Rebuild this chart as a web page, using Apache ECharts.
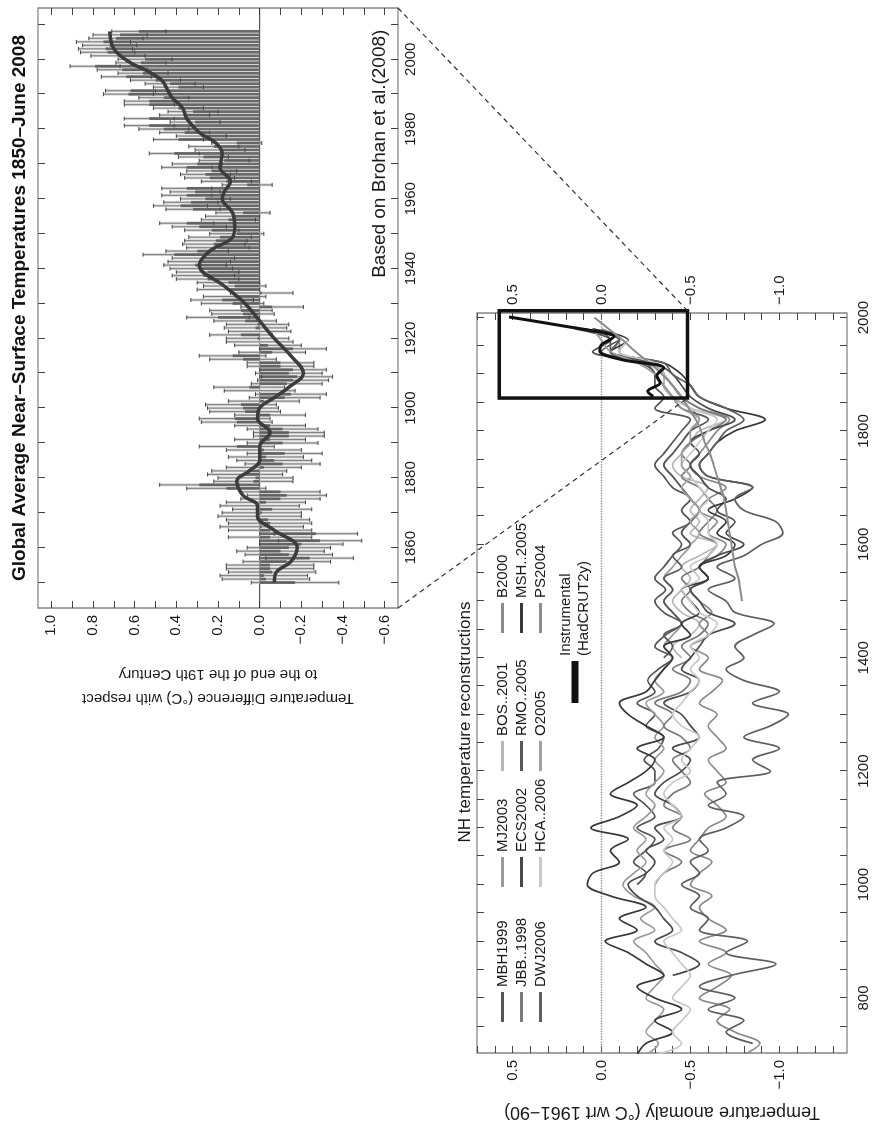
<!DOCTYPE html>
<html><head><meta charset="utf-8">
<script src="https://cdn.jsdelivr.net/npm/echarts@6/dist/echarts.min.js"></script>
<style>
html,body{margin:0;padding:0;background:#fff;width:872px;height:1136px;overflow:hidden}
#wrap{position:absolute;left:0;top:0;width:1136px;height:872px;transform-origin:0 0;transform:translate(0px,1136px) rotate(-90deg)}
#chart{width:1136px;height:872px}
</style></head><body>
<div id="wrap"><div id="chart"></div></div>
<script>
// ---------- Upper panel: global annual anomalies (relative to end of 19th century) ----------
const globalStart = 1850;
const globalAnom = [
-0.17,-0.03,-0.02,-0.06,-0.05,-0.05,-0.13,-0.24,-0.14,-0.10,
-0.14,-0.20,-0.29,-0.05,-0.27,-0.05,-0.01,-0.05,-0.04,0.00,
-0.01,-0.06,0.00,-0.03,-0.10,-0.13,-0.10,0.16,0.29,0.03,
0.02,0.07,0.05,-0.02,-0.11,-0.07,-0.03,-0.12,-0.02,0.11,
-0.11,-0.05,-0.14,-0.14,-0.11,-0.05,0.11,0.12,-0.05,0.07,
0.08,0.09,-0.02,-0.12,-0.15,0.00,0.05,-0.13,-0.16,-0.18,
-0.14,-0.16,-0.10,-0.10,0.08,0.13,-0.06,-0.16,-0.04,0.00,
0.01,0.09,0.00,0.02,0.01,0.07,0.20,0.08,0.09,-0.06,
0.13,0.18,0.12,-0.01,0.15,0.12,0.15,0.25,0.27,0.25,
0.28,0.31,0.29,0.27,0.41,0.30,0.20,0.22,0.21,0.19,
0.11,0.23,0.29,0.35,0.15,0.13,0.08,0.32,0.38,0.33,
0.26,0.35,0.31,0.35,0.06,0.16,0.24,0.26,0.23,0.35,
0.30,0.17,0.27,0.41,0.19,0.22,0.11,0.39,0.28,0.36,
0.46,0.53,0.31,0.53,0.36,0.32,0.39,0.53,0.53,0.46,
0.63,0.62,0.39,0.43,0.50,0.64,0.56,0.66,0.79,0.57,
0.55,0.68,0.73,0.74,0.72,0.75,0.69,0.67,0.58];
const errDecade = [0.21,0.20,0.19,0.18,0.17,0.17,0.16,0.15,0.15,0.15,0.13,0.12,0.12,0.12,0.12,0.13];
const smoothYears = [1850,1853,1856,1860,1865,1869,1872,1875,1879,1882,1885,1889,1893,1897,1900,1903,1906,1910,1915,1920,1925,1930,1935,1941,1945,1949,1952,1956,1960,1962,1965,1969,1973,1976,1979,1983,1986,1989,1991,1994,1997,1999,2003,2008];
const smoothVals = [-0.07,-0.08,-0.15,-0.18,-0.07,0.01,0.01,0.08,0.11,0.05,0.0,0.0,-0.05,0.01,0.0,-0.07,-0.14,-0.21,-0.15,-0.07,0.0,0.07,0.17,0.29,0.24,0.13,0.12,0.13,0.18,0.17,0.14,0.19,0.18,0.21,0.29,0.35,0.37,0.42,0.44,0.47,0.55,0.62,0.70,0.72];
const upperXTicks = [1850,1860,1870,1880,1890,1900,1910,1920,1930,1940,1950,1960,1970,1980,1990,2000,2010];
const upperXLabels = [1860,1880,1900,1920,1940,1960,1980,2000];
const upperYTicks = [-0.6,-0.5,-0.4,-0.3,-0.2,-0.1,0,0.1,0.2,0.3,0.4,0.5,0.6,0.7,0.8,0.9,1.0];
const upperYLabels = [-0.6,-0.4,-0.2,0,0.2,0.4,0.6,0.8,1.0];

// ---------- Lower panel: NH reconstructions (20-year steps from each start year) ----------
const reconNames = ['MBH1999','MJ2003','BOS..2001','B2000','JBB..1998','ECS2002','RMO..2005','MSH..2005','DWJ2006','HCA..2006','O2005','PS2004'];
const reconStart = [1000,700,1400,700,1000,840,1400,700,720,700,1600,1500];
const reconStep = 20;
const MBH1999 = [-0.20,-0.25,-0.18,-0.25,-0.30,-0.20,-0.30,-0.25,-0.18,-0.30,-0.30,-0.24,-0.32,-0.35,-0.25,-0.30,-0.20,-0.30,-0.26,-0.32,-0.40,-0.30,-0.36,-0.45,-0.35,-0.30,-0.36,-0.30,-0.35,-0.40,-0.45,-0.40,-0.50,-0.45,-0.50,-0.40,-0.35,-0.30,-0.35,-0.40,-0.45,-0.50,-0.30,-0.35,-0.30,-0.30,-0.22,-0.05,-0.05,0.05];
const MJ2003 = [-0.25,-0.32,-0.25,-0.30,-0.35,-0.25,-0.30,-0.35,-0.30,-0.25,-0.18,-0.30,-0.22,-0.30,-0.18,-0.12,-0.18,-0.25,-0.20,-0.25,-0.18,-0.25,-0.30,-0.25,-0.30,-0.35,-0.30,-0.35,-0.30,-0.35,-0.30,-0.25,-0.35,-0.30,-0.35,-0.40,-0.35,-0.40,-0.45,-0.40,-0.35,-0.40,-0.35,-0.40,-0.45,-0.50,-0.45,-0.50,-0.55,-0.50,-0.45,-0.40,-0.35,-0.40,-0.45,-0.50,-0.55,-0.50,-0.40,-0.35,-0.35,-0.25,-0.05,-0.10,0.05];
const BOS2001 = [-0.45,-0.40,-0.50,-0.55,-0.45,-0.40,-0.45,-0.50,-0.45,-0.55,-0.65,-0.50,-0.55,-0.50,-0.55,-0.60,-0.45,-0.40,-0.45,-0.50,-0.55,-0.70,-0.50,-0.40,-0.35,-0.35,-0.25,-0.10,-0.15];
const B2000 = [-0.80,-0.89,-0.75,-0.65,-0.72,-0.55,-0.65,-0.73,-0.60,-0.70,-0.55,-0.70,-0.60,-0.55,-0.62,-0.50,-0.55,-0.62,-0.50,-0.55,-0.60,-0.70,-0.65,-0.58,-0.70,-0.65,-0.60,-0.70,-0.65,-0.60,-0.65,-0.55,-0.62,-0.68,-0.55,-0.60,-0.50,-0.60,-0.55,-0.62,-0.55,-0.50,-0.60,-0.55,-0.65,-0.70,-0.60,-0.65,-0.55,-0.60,-0.70,-0.55,-0.50,-0.55,-0.60,-0.65,-0.72,-0.55,-0.45,-0.40,-0.35,-0.30,-0.10,-0.10,0.00];
const JBB1998 = [-0.30,-0.35,-0.45,-0.35,-0.50,-0.40,-0.45,-0.35,-0.40,-0.50,-0.45,-0.40,-0.50,-0.45,-0.35,-0.40,-0.30,-0.45,-0.50,-0.40,-0.50,-0.45,-0.55,-0.60,-0.50,-0.45,-0.50,-0.45,-0.55,-0.60,-0.65,-0.55,-0.60,-0.65,-0.60,-0.55,-0.45,-0.50,-0.45,-0.50,-0.60,-0.70,-0.55,-0.45,-0.40,-0.35,-0.30,-0.05,-0.10,0.10];
const ECS2002 = [-0.40,-0.55,-0.45,-0.30,-0.40,-0.35,-0.30,-0.20,-0.15,-0.25,-0.30,-0.25,-0.35,-0.30,-0.45,-0.40,-0.30,-0.35,-0.45,-0.50,-0.40,-0.55,-0.50,-0.45,-0.35,-0.50,-0.55,-0.45,-0.50,-0.55,-0.60,-0.75,-0.60,-0.55,-0.50,-0.60,-0.55,-0.65,-0.80,-0.70,-0.75,-0.65,-0.70,-0.60,-0.55,-0.50,-0.55,-0.50,-0.60,-0.75,-0.60,-0.50,-0.45,-0.40,-0.30,0.05,-0.05,0.15];
const RMO2005 = [-0.35,-0.40,-0.35,-0.45,-0.40,-0.35,-0.40,-0.35,-0.45,-0.40,-0.50,-0.45,-0.50,-0.55,-0.50,-0.45,-0.40,-0.35,-0.40,-0.45,-0.50,-0.60,-0.45,-0.40,-0.35,-0.30,-0.25,0.00,-0.10];
const MSH2005 = [-0.20,-0.25,-0.40,-0.30,-0.45,-0.30,-0.20,-0.35,-0.25,-0.15,-0.02,-0.20,-0.10,-0.25,-0.05,0.08,0.05,-0.10,-0.05,-0.15,0.06,-0.10,-0.20,-0.05,-0.15,-0.25,-0.30,-0.20,-0.35,-0.25,-0.15,-0.10,-0.25,-0.30,-0.35,-0.40,-0.35,-0.50,-0.45,-0.55,-0.50,-0.45,-0.60,-0.55,-0.70,-0.75,-0.65,-0.70,-0.60,-0.75,-0.85,-0.60,-0.55,-0.60,-0.65,-0.75,-0.92,-0.70,-0.55,-0.50,-0.45,-0.35,-0.05,-0.15,0.05];
const DWJ2006 = [-0.85,-0.70,-0.80,-0.60,-0.75,-0.55,-0.73,-0.98,-0.70,-0.82,-0.55,-0.60,-0.50,-0.55,-0.45,-0.55,-0.50,-0.60,-0.55,-0.70,-0.80,-0.60,-0.70,-0.65,-0.95,-0.85,-1.00,-0.80,-0.95,-1.05,-0.85,-1.00,-0.80,-0.70,-0.80,-0.75,-0.85,-0.97,-0.75,-0.70,-0.60,-0.75,-0.65,-0.80,-0.90,-1.02,-0.98,-0.80,-0.75,-0.85,-0.60,-0.55,-0.60,-0.65,-0.70,-0.80,-0.70,-0.55,-0.50,-0.40,-0.35,-0.05,-0.10,0.10];
const HCA2006 = [-0.30,-0.45,-0.40,-0.45,-0.50,-0.40,-0.45,-0.50,-0.45,-0.40,-0.35,-0.45,-0.40,-0.35,-0.30,-0.30,-0.35,-0.40,-0.35,-0.40,-0.35,-0.45,-0.40,-0.35,-0.40,-0.50,-0.45,-0.50,-0.55,-0.45,-0.40,-0.45,-0.50,-0.55,-0.50,-0.55,-0.50,-0.60,-0.65,-0.55,-0.50,-0.45,-0.55,-0.50,-0.60,-0.65,-0.60,-0.60,-0.55,-0.60,-0.55,-0.50,-0.45,-0.50,-0.55,-0.60,-0.65,-0.50,-0.45,-0.40,-0.35,-0.30,-0.10,-0.15];
const O2005 = [-0.50,-0.55,-0.50,-0.55,-0.50,-0.45,-0.50,-0.45,-0.45,-0.50,-0.50,-0.55,-0.45,-0.40,-0.35,-0.30,-0.20,-0.05,0.00,0.05];
const PS2004 = [-0.79,-0.78,-0.77,-0.75,-0.74,-0.73,-0.72,-0.71,-0.70,-0.69,-0.67,-0.65,-0.63,-0.61,-0.58,-0.56,-0.53,-0.49,-0.45,-0.40,-0.34,-0.27,-0.19,-0.12,-0.04,0.04];
const reconValues = [MBH1999,MJ2003,BOS2001,B2000,JBB1998,ECS2002,RMO2005,MSH2005,DWJ2006,HCA2006,O2005,PS2004];
const reconColors = ['#555555','#9a9a9a','#b8b8b8','#8a8a8a','#7a7a7a','#4a4a4a','#585858','#383838','#5e5e5e','#c8c8c8','#a0a0a0','#8c8c8c'];
const instYears = [1861,1870,1885,1897,1911,1926,1941,1952,1967,1972,1986,2001];
const instVals  = [-0.29,-0.26,-0.33,-0.31,-0.35,-0.11,0.01,0.0,-0.07,-0.03,0.23,0.52];
const boxCorners = [1858,-0.484,2012,0.575];
const lowerXTicks = [750,800,850,900,950,1000,1050,1100,1150,1200,1250,1300,1350,1400,1450,1500,1550,1600,1650,1700,1750,1800,1850,1900,1950,2000];
const lowerXLabels = [800,1000,1200,1400,1600,1800,2000];
const lowerYTicks = [-1.3,-1.2,-1.1,-1.0,-0.9,-0.8,-0.7,-0.6,-0.5,-0.4,-0.3,-0.2,-0.1,0,0.1,0.2,0.3,0.4,0.5,0.6,0.7];
const lowerYLabels = [-1.0,-0.5,0,0.5];

// ---------- layout ----------
const U = {xMin:1842.7, xMax:2014.7, yMin:-0.664, yMax:1.064};
const L = {xMin:703, xMax:2008, yMin:-1.38, yMax:0.70};
const FONT = "'Liberation Sans', Arial, Helvetica, sans-serif";
const fmt = v => { const r = Math.round(v*10)/10; return (r < 0 ? '\u2212' : '') + Math.abs(r).toFixed(1); };
const fmtYear = v => String(Math.round(v));

function ax(extra, ticks, labels, labelExtra){
  return Object.assign({
    type:'value', axisLine:{show:false, onZero:false}, splitLine:{show:false},
    axisTick:{show:true, inside:true, length:7, customValues:ticks, lineStyle:{color:'#444', width:1}},
    axisLabel: labels ? Object.assign({show:true, customValues:labels, fontSize:15, color:'#1a1a1a', fontFamily:FONT}, labelExtra||{}) : {show:false}
  }, extra);
}

const chart = echarts.init(document.getElementById('chart'), null, {renderer:'canvas'});

const upperData = globalAnom.map((v,i)=>[globalStart+i, v, errDecade[Math.floor(i/10)]]);

const series = [];
series.push({
  type:'line', name:'zero', xAxisIndex:0, yAxisIndex:0, z:1, showSymbol:false, silent:true,
  data:[[U.xMin,0],[U.xMax,0]], lineStyle:{color:'#333', width:1}, color:'#333'
});
series.push({
  type:'custom', name:'annual', xAxisIndex:0, yAxisIndex:0, z:2, data:upperData,
  renderItem:(p, api)=>{
    const yr = api.value(0), v = api.value(1), e = api.value(2);
    const a = api.coord([yr-0.4, v-e]), b = api.coord([yr+0.4, v+e]);
    const c0 = api.coord([yr-0.4, 0]), c1 = api.coord([yr+0.4, v]);
    const lo = api.coord([yr, v-e]), hi = api.coord([yr, v+e]);
    return {type:'group', children:[
      {type:'rect', shape:{x:Math.min(a[0],b[0]), y:Math.min(a[1],b[1]), width:Math.abs(b[0]-a[0]), height:Math.abs(b[1]-a[1])}, style:{fill:'#d2d2d2'}},
      {type:'rect', shape:{x:Math.min(c0[0],c1[0]), y:Math.min(c0[1],c1[1]), width:Math.abs(c1[0]-c0[0]), height:Math.abs(c1[1]-c0[1])}, style:{fill:'#6a6a6a'}},
      {type:'line', shape:{x1:lo[0], y1:lo[1], x2:hi[0], y2:hi[1]}, style:{stroke:'#5a5a5a', lineWidth:0.7}},
      {type:'line', shape:{x1:lo[0]-2, y1:lo[1], x2:lo[0]+2, y2:lo[1]}, style:{stroke:'#444', lineWidth:1}},
      {type:'line', shape:{x1:hi[0]-2, y1:hi[1], x2:hi[0]+2, y2:hi[1]}, style:{stroke:'#444', lineWidth:1}}
    ]};
  }
});
series.push({
  type:'line', name:'smooth', xAxisIndex:0, yAxisIndex:0, z:5, smooth:0.4, showSymbol:false,
  data: smoothYears.map((y,i)=>[y, smoothVals[i]]),
  lineStyle:{color:'#3c3c3c', width:3.5}, color:'#3c3c3c'
});
const firstRecon = series.length;
series.push({
  type:'line', name:'zeroLow', xAxisIndex:2, yAxisIndex:2, z:1, showSymbol:false, silent:true,
  data:[[L.xMin,0],[L.xMax,0]], lineStyle:{color:'#8a8a8a', width:1.3, type:'dotted'}, color:'#8a8a8a'
});
reconNames.forEach((n,k)=>{
  series.push({
    type:'line', name:n, xAxisIndex:2, yAxisIndex:2, smooth:0.35, showSymbol:false, z:3,
    data: reconValues[k].map((v,j)=>[reconStart[k]+reconStep*j, v]),
    color:reconColors[k], lineStyle:{color:reconColors[k], width: n==='PS2004' ? 2 : 1.7}
  });
});
series.push({
  type:'line', name:'Instrumental', xAxisIndex:2, yAxisIndex:2, smooth:0.35, showSymbol:false, z:6,
  data: instYears.map((y,i)=>[y, instVals[i]]),
  color:'#111', lineStyle:{color:'#111', width:3}
});
series.push({
  type:'custom', name:'box', xAxisIndex:2, yAxisIndex:2, z:8, clip:false, data:[boxCorners],
  renderItem:(p, api)=>{
    const a = api.coord([api.value(0), api.value(1)]), b = api.coord([api.value(2), api.value(3)]);
    return {type:'rect', shape:{x:Math.min(a[0],b[0]), y:Math.min(a[1],b[1]), width:Math.abs(b[0]-a[0]), height:Math.abs(b[1]-a[1])}, style:{fill:null, stroke:'#111', lineWidth:3.5}};
  }
});

const legTxt = {fontSize:15, color:'#1a1a1a', fontFamily:FONT};
function leg(names, left, top, extra){
  return Object.assign({orient:'vertical', left:left, top:top, data:names, icon:'rect', itemWidth:30, itemHeight:3, itemGap:4, padding:0, selectedMode:false, textStyle:Object.assign({}, legTxt)}, extra||{});
}

const option = {
  animation:false,
  backgroundColor:'#fff',
  grid:[
    {left:528, top:38, width:600, height:360, show:true, borderColor:'#666', borderWidth:1.2, backgroundColor:'transparent'},
    {left:83, top:477, width:740, height:370, show:true, borderColor:'#666', borderWidth:1.2, backgroundColor:'transparent'}
  ],
  xAxis:[
    ax({gridIndex:0, position:'bottom', min:U.xMin, max:U.xMax}, upperXTicks, upperXLabels, {margin:5, formatter:fmtYear}),
    ax({gridIndex:0, position:'top', min:U.xMin, max:U.xMax}, upperXTicks, null),
    ax({gridIndex:1, position:'bottom', min:L.xMin, max:L.xMax}, lowerXTicks, lowerXLabels, {margin:9, formatter:fmtYear}),
    ax({gridIndex:1, position:'top', min:L.xMin, max:L.xMax}, lowerXTicks, null)
  ],
  yAxis:[
    ax({gridIndex:0, position:'left', min:U.yMin, max:U.yMax,
      name:'Temperature Difference (\u00B0C) with respect\nto the end of the 19th Century',
      nameLocation:'middle', nameGap:54, nameTextStyle:{fontSize:15, lineHeight:24, color:'#1a1a1a', fontFamily:FONT}},
      upperYTicks, upperYLabels, {margin:7, formatter:fmt}),
    ax({gridIndex:0, position:'right', min:U.yMin, max:U.yMax}, upperYTicks, null),
    ax({gridIndex:1, position:'left', min:L.yMin, max:L.yMax,
      name:'Temperature anomaly (\u00B0C wrt 1961\u221290)',
      nameLocation:'middle', nameGap:50, nameTextStyle:{fontSize:18, color:'#1a1a1a', fontFamily:FONT}},
      lowerYTicks, lowerYLabels, {margin:7, formatter:fmt}),
    ax({gridIndex:1, position:'right', min:L.yMin, max:L.yMax}, lowerYTicks, lowerYLabels, {margin:8, formatter:fmt})
  ],
  legend:[
    leg(['MBH1999','JBB..1998','DWJ2006'], 114, 495),
    leg(['MJ2003','ECS2002','HCA..2006'], 249, 495),
    leg(['BOS..2001','RMO..2005','O2005'], 365, 495),
    leg(['B2000','MSH..2005','PS2004'], 503, 495),
    leg(['Instrumental'], 433, 557, {itemWidth:42, itemHeight:7, formatter:()=> 'Instrumental\n(HadCRUT2y)', textStyle:Object.assign({}, legTxt, {lineHeight:18})})
  ],
  series: series
};
chart.setOption(option);

// titles and annotations + dashed connectors computed through the axes
const pUL = chart.convertToPixel({seriesIndex:2}, [U.xMin, U.yMin]);
const pUR = chart.convertToPixel({seriesIndex:2}, [U.xMax, U.yMin]);
const pBL = chart.convertToPixel({seriesIndex:firstRecon}, [boxCorners[0], boxCorners[1]]);
const pBR = chart.convertToPixel({seriesIndex:firstRecon}, [boxCorners[2], boxCorners[1]]);
const pTitle = chart.convertToPixel({seriesIndex:2}, [(U.xMin+U.xMax)/2, U.yMax]);
const pNote = chart.convertToPixel({seriesIndex:2}, [2008.5, U.yMin]);
const dash = {stroke:'#333', lineWidth:1.2, lineDash:[5,4]};
chart.setOption({
  graphic:[
    {type:'line', z:100, shape:{x1:pUL[0], y1:pUL[1], x2:pBL[0], y2:pBL[1]}, style:dash},
    {type:'line', z:100, shape:{x1:pUR[0], y1:pUR[1], x2:pBR[0], y2:pBR[1]}, style:dash},
    {type:'text', z:100, x:pTitle[0], y:20, style:{text:'Global Average Near\u2013Surface Temperatures 1850\u2013June 2008', font:"bold 19px "+FONT, fill:'#111', align:'center', verticalAlign:'middle'}},
    {type:'text', z:100, x:pNote[0], y:pNote[1]-18, style:{text:'Based on Brohan et al.(2008)', font:"19px "+FONT, fill:'#1a1a1a', align:'right', verticalAlign:'middle'}},
    {type:'text', z:100, x:414, y:465, style:{text:'NH temperature reconstructions', font:"17px "+FONT, fill:'#1a1a1a', align:'center', verticalAlign:'middle'}}
  ]
});
</script></body></html>
